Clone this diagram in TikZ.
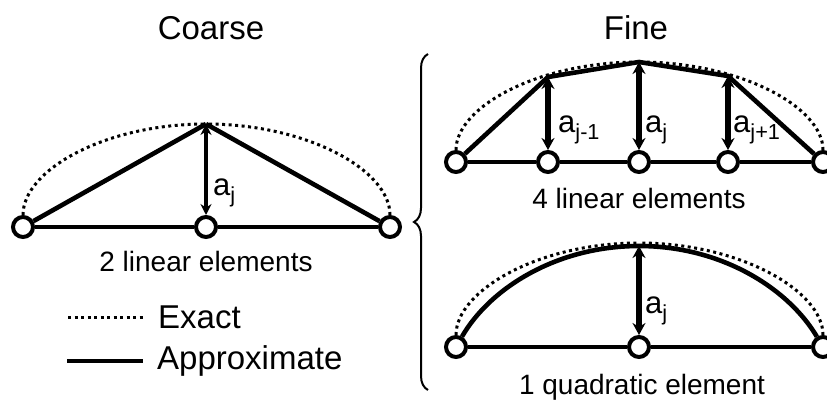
\documentclass[tikz,border=0pt]{standalone}
\usepackage{fontspec}
\setmainfont{Liberation Sans}
\usetikzlibrary{arrows.meta, positioning, decorations.pathreplacing}

\begin{document}
\begin{tikzpicture}[
        x=1pt, y=-1pt,
        joint/.style={circle, draw, fill=white, line width=4pt, minimum size=20pt, inner sep=0pt},
        exact/.style={line width=3pt, dash pattern=on 3pt off 3.5pt},
        approx/.style={line width=4.6pt},
        bar/.style={line width=4pt},
        ampline/.style={line width=6pt,{Stealth[length=12pt,width=13pt]}-{Stealth[length=12pt,width=13pt]}},
        thinampline/.style={line width=4.5pt,{Stealth[length=11pt,width=11pt]}-{Stealth[length=11pt,width=11pt]}},
        title/.style={font=\fontsize{33}{36}\selectfont},
        caption/.style={font=\fontsize{28}{30}\selectfont},
        amp/.style={font=\fontsize{31}{33}\selectfont, inner sep=0pt, anchor=west}
        ]
        \useasboundingbox (0,0) rectangle (827,401);

        % coarse
        \node (coarseL) [joint] at (23,227) {};
        \node (coarseM) [joint] at (206,227) {};
        \node (coarseR) [joint] at (390,227) {};
        \coordinate (coarseTop) at (206,124);
        \node (titleCoarse) [title] at (211,28) {Coarse};
        \node (capCoarse) [caption, below=9pt of coarseM] {2 linear elements};
        \node (ampCoarse) [amp] at (213,193) {a\textsubscript{j}};

        \draw [exact] (coarseL) .. controls (23,170) and (105,124) .. (coarseTop);
        \draw [exact] (coarseR) .. controls (390,170) and (307,124) .. (coarseTop);
        \draw [approx] (coarseL) -- (coarseTop);
        \draw [approx] (coarseR) -- (coarseTop);
        \draw [bar] (coarseL) -- (coarseM);
        \draw [bar] (coarseM) -- (coarseR);
        \draw [thinampline] (coarseTop) -- (coarseM);

        % legend
        \node (legExact) [title, anchor=west, inner sep=0pt] at (158,317) {Exact};
        \node (legApprox) [title, anchor=west, inner sep=0pt] at (157,361) {Approximate};
        \coordinate (legExactEnd) at (146,317);
        \coordinate (legExactStart) at (68,317);
        \coordinate (legApproxEnd) at (143,361);
        \coordinate (legApproxStart) at (67,361);
        \draw [exact] (legExactStart) -- (legExactEnd);
        \draw [approx] (legApproxStart) -- (legApproxEnd);

        % brace
        \coordinate (braceTop) at (428,54);
        \coordinate (braceBot) at (428,390);
        \draw [line width=2pt, decorate, decoration={brace, amplitude=14pt}] (braceBot) -- (braceTop);

        % fine, linear
        \node (titleFine) [title] at (636,28) {Fine};
        \node (fineA) [joint] at (456,162) {};
        \node (fineB) [joint] at (548,162) {};
        \node (fineC) [joint] at (639,162) {};
        \node (fineD) [joint] at (728,162) {};
        \node (fineE) [joint] at (823,162) {};
        \coordinate (topB) at (548,77);
        \coordinate (topC) at (639,62);
        \coordinate (topD) at (728,76);
        \node (capFine) [caption, below=11pt of fineC] {4 linear elements};
        \node (ampB) [amp] at (558,130) {a\textsubscript{j-1}};
        \node (ampC) [amp] at (645,130) {a\textsubscript{j}};
        \node (ampD) [amp] at (733,130) {a\textsubscript{j+1}};

        \draw [exact] (fineA) .. controls (456,107) and (538,62) .. (topC);
        \draw [exact] (fineE) .. controls (823,107) and (740,62) .. (topC);
        \draw [approx] (fineA) -- (topB) -- (topC) -- (topD) -- (fineE);
        \draw [bar] (fineA) -- (fineB);
        \draw [bar] (fineB) -- (fineC);
        \draw [bar] (fineC) -- (fineD);
        \draw [bar] (fineD) -- (fineE);
        \draw [ampline] (topB) -- (fineB);
        \draw [ampline] (topC) -- (fineC);
        \draw [ampline] (topD) -- (fineD);

        % fine, quadratic
        \node (quadL) [joint] at (456,347) {};
        \node (quadM) [joint] at (639,347) {};
        \node (quadR) [joint] at (823,347) {};
        \coordinate (quadTop) at (639,246);
        \node (capQuad) [caption, below=12pt of quadM, xshift=3pt] {1 quadratic element};
        \node (ampQuad) [amp] at (645,311) {a\textsubscript{j}};

        \draw [exact] (quadL) .. controls (456,291) and (538,243) .. (639,243);
        \draw [exact] (quadR) .. controls (823,291) and (740,243) .. (639,243);
        \draw [approx] (quadL) .. controls (490,288) and (557,246) .. (quadTop) .. controls (721,246) and (788,288) .. (quadR);
        \draw [bar] (quadL) -- (quadM);
        \draw [bar] (quadM) -- (quadR);
        \draw [ampline] (quadTop) -- (quadM);

    \end{tikzpicture}
\end{document}
